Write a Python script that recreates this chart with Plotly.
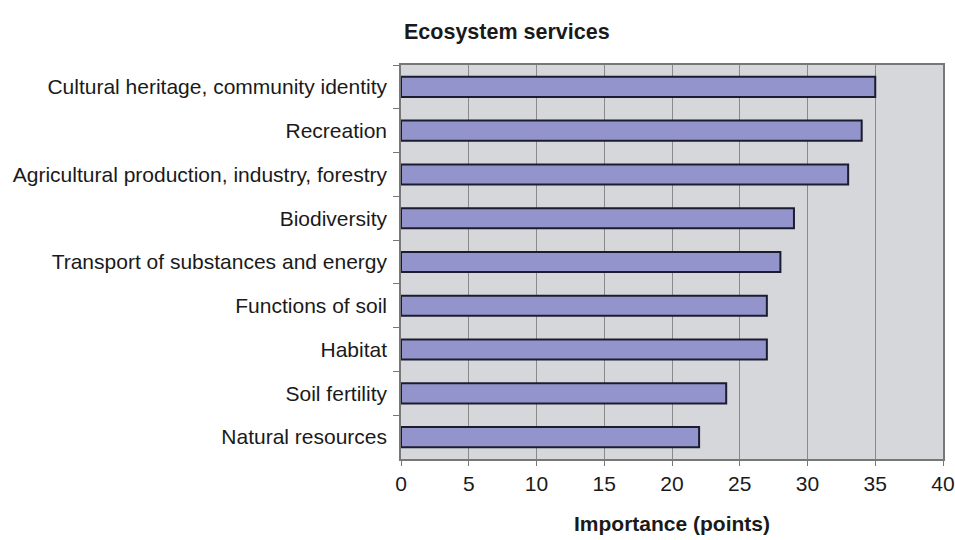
import plotly.graph_objects as go

categories = [
    "Cultural heritage, community identity",
    "Recreation",
    "Agricultural production, industry, forestry",
    "Biodiversity",
    "Transport of substances and energy",
    "Functions of soil",
    "Habitat",
    "Soil fertility",
    "Natural resources",
]
values = [35, 34, 33, 29, 28, 27, 27, 24, 22]
x_ticks = [0, 5, 10, 15, 20, 25, 30, 35, 40]

fig = go.Figure(go.Bar(
    x=values, y=categories, orientation="h",
    width=0.46,
    marker=dict(color="#9494cc", line=dict(color="#1c1c30", width=2)),
))

fig.update_layout(
    width=955, height=540,
    margin=dict(l=401, r=12, t=65, b=81, autoexpand=False),
    paper_bgcolor="white", plot_bgcolor="#d5d7db",
    font=dict(family="Liberation Sans, Arial, sans-serif", size=21, color="#1a1a1a"),
    title=dict(text="<b>Ecosystem services</b>", x=404/955, xanchor="left",
               y=1-31/540, yanchor="middle", font=dict(size=21.5)),
    showlegend=False,
)
fig.update_xaxes(
    range=[0, 40], tickvals=x_ticks, ticks="outside", ticklen=5, tickcolor="#777",
    showgrid=True, gridcolor="#8a8a8a", gridwidth=1,
    showline=True, linecolor="#777", linewidth=1.5, mirror=True,
    zeroline=False, automargin=False,
    title=dict(text="<b>Importance (points)</b>", standoff=22, font=dict(size=21)),
)
fig.update_yaxes(
    autorange="reversed", ticks="outside", ticklen=6, tickcolor="#777",
    tickson="boundaries", ticklabelstandoff=8, automargin=False,
    showline=True, linecolor="#777", linewidth=1.5, mirror=True,
    showgrid=False,
)
fig.write_html("out.html")
